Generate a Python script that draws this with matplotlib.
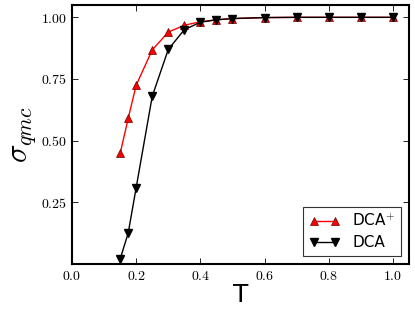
import matplotlib
matplotlib.use("Agg")
import matplotlib.pyplot as plt
from matplotlib.ticker import FuncFormatter

T = [0.15, 0.175, 0.2, 0.25, 0.3, 0.35, 0.4, 0.45, 0.5, 0.6, 0.7, 0.8, 0.9, 1.0]
dca_plus = [0.448, 0.59, 0.725, 0.868, 0.94, 0.968, 0.982, 0.99, 0.995, 0.999, 1.0, 1.0, 1.0, 1.0]
dca = [0.02, 0.125, 0.31, 0.68, 0.87, 0.95, 0.98, 0.99, 0.995, 0.999, 1.0, 1.0, 1.0, 1.0]
xticks = [0.0, 0.2, 0.4, 0.6, 0.8, 1.0]
yticks = [0.25, 0.50, 0.75, 1.00]

plt.rcParams['mathtext.fontset'] = 'cm'
plt.rcParams['xtick.direction'] = 'in'
plt.rcParams['ytick.direction'] = 'in'

fig = plt.figure(figsize=(4.15, 3.12), dpi=100)
ax = fig.add_axes([72/415, 48/312, 337/415, 259/312])

ax.plot(T, dca_plus, '-^', color='red', markerfacecolor='red', markeredgecolor='#600000',
        markeredgewidth=0.5, markersize=6, lw=1, label=r'DCA$^{+}$')
ax.plot(T, dca, '-v', color='black', markerfacecolor='black', markeredgecolor='black',
        markersize=6, lw=1, label='DCA')

ax.set_xlim(0, 1.05)
ax.set_ylim(0, 1.05)
ax.set_xticks(xticks)
ax.set_yticks(yticks)
ax.xaxis.set_major_formatter(FuncFormatter(lambda v, p: r'$%.1f$' % v))
ax.yaxis.set_major_formatter(FuncFormatter(lambda v, p: r'$%.2f$' % v))
ax.tick_params(top=True, right=True, labelsize=10, length=4, width=0.6)
for s in ax.spines.values():
    s.set_linewidth(1.5)

ax.set_xlabel('T', fontsize=18, labelpad=0)
ax.set_ylabel(r'$\sigma_{qmc}$', fontsize=22, labelpad=2)

leg = ax.legend(loc='lower right', fontsize=11, fancybox=False, numpoints=2,
                handlelength=2.0, borderaxespad=0.5, labelspacing=0.4)
leg.get_frame().set_edgecolor('black')
leg.get_frame().set_linewidth(0.8)

fig.savefig('out.png', dpi=100)
